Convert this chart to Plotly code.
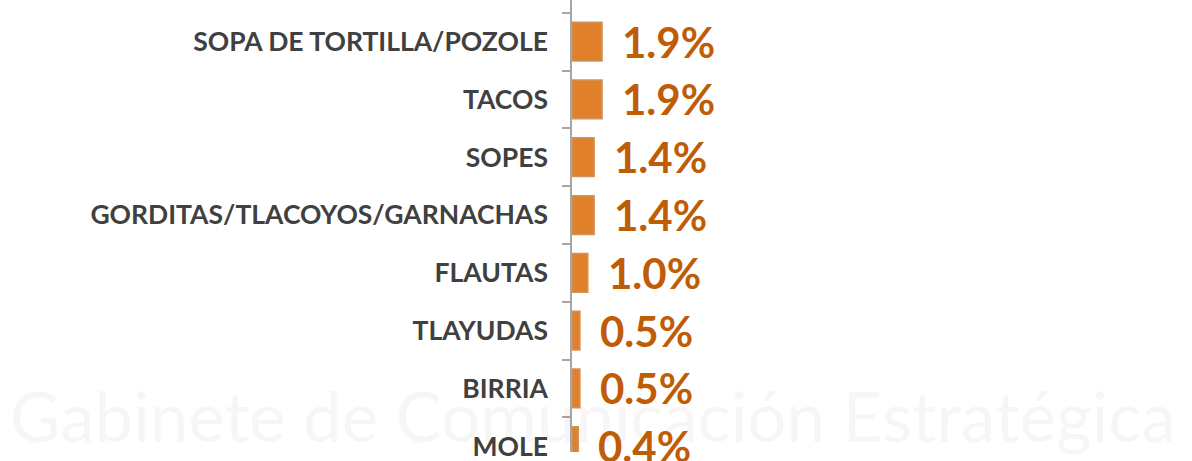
import plotly.graph_objects as go

categories = ["SOPA DE TORTILLA/POZOLE", "TACOS", "SOPES", "GORDITAS/TLACOYOS/GARNACHAS",
              "FLAUTAS", "TLAYUDAS", "BIRRIA", "MOLE"]
values = [1.9, 1.9, 1.4, 1.4, 1.0, 0.5, 0.5, 0.4]
value_labels = ["1.9%", "1.9%", "1.4%", "1.4%", "1.0%", "0.5%", "0.5%", "0.4%"]

BAR = "#E0802A"
BAR_LINE = "#D0925A"
TXT = "#BF5C06"
LBL = "#404040"

fig = go.Figure()
fig.add_trace(go.Bar(
    x=values, y=categories, orientation="h",
    marker=dict(color=BAR, line=dict(color=BAR_LINE, width=1.5)),
    hoverinfo="skip",
))

annotations = []
# faint watermark
annotations.append(dict(text="Gabinete de Comunicación Estratégica", xref="paper", yref="paper",
                        x=-0.91, y=0.08, xanchor="left", yanchor="middle", showarrow=False,
                        font=dict(family="Lato", size=69, color="rgba(0,0,0,0.035)")))
for c, v, t in zip(categories, values, value_labels):
    annotations.append(dict(text=t, x=v, y=c, xref="x", yref="y", xanchor="left",
                            yanchor="middle", xshift=18, showarrow=False,
                            font=dict(family="Lato", size=42, color=TXT, weight="bold")))

fig.update_layout(
    width=1192, height=461,
    margin=dict(l=572, r=0, t=0, b=0),
    paper_bgcolor="white", plot_bgcolor="rgba(0,0,0,0)",
    showlegend=False, bargap=0.33,
    annotations=annotations,
    xaxis=dict(range=[0, 39.2], visible=False, fixedrange=True),
    yaxis=dict(type="category", categoryorder="array", categoryarray=categories,
               range=[7.1, -0.72], showline=True, linecolor="#A6A6A6", linewidth=1.5,
               ticks="outside", tickson="boundaries", ticklen=8, tickcolor="#A6A6A6",
               tickwidth=1.5, ticklabelstandoff=17, showgrid=False, zeroline=False,
               tickfont=dict(family="Lato", size=26.5, color=LBL, weight="bold")),
)

fig.write_html("out.html")
